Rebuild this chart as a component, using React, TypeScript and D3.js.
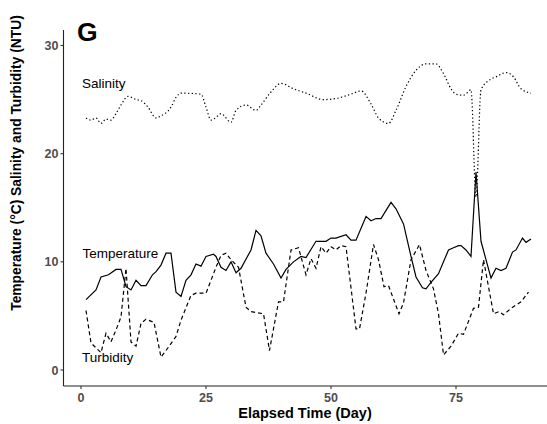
import React from "react";
import * as d3 from "d3";

const xTicks = [0, 25, 50, 75];
const yTicks = [0, 10, 20, 30];

const salinityDays = [1, 2, 3, 4, 5, 6, 7, 8, 9.4, 11, 12, 13.4, 15, 16, 18, 19, 20, 24, 25, 26, 27.4, 28, 30, 31, 33, 35, 36, 38, 40, 42.5, 45, 48.5, 51, 54, 56, 58, 59.5, 61.5, 63, 65, 67, 69, 71, 72.5, 74, 75, 76.5, 78, 79, 80, 82, 83, 85, 86.5, 88, 90];
const salinityValues = [23.3, 23.1, 23.3, 22.8, 23.2, 23.1, 23.7, 24.5, 25.3, 25.0, 24.9, 24.3, 23.3, 23.5, 24.3, 25.2, 25.6, 25.5, 24.3, 23.1, 23.5, 23.7, 22.9, 24.0, 24.5, 24.0, 24.5, 25.7, 26.5, 26.0, 25.6, 25.0, 25.1, 25.5, 25.8, 24.6, 23.3, 22.8, 24.0, 26.2, 27.7, 28.3, 28.3, 27.4, 26.0, 25.5, 25.4, 25.9, 16.0, 25.9, 26.9, 27.1, 27.5, 27.1, 26.0, 25.6];

const temperatureDays = [1, 3, 4, 5.5, 7, 8, 9, 10, 11, 12, 13, 14.3, 15, 16, 17, 18, 19, 20, 21, 22, 23, 24, 25, 26.5, 27, 28, 29, 30, 31, 32, 34, 35, 36, 37, 38.5, 40, 41, 42.5, 44, 45, 47, 49, 50, 51, 53, 54, 55, 57, 58, 59, 60, 62, 63, 64.5, 66, 67, 68.3, 69, 70, 71.5, 72.5, 73.5, 74.5, 75.5, 76, 77, 78, 79, 80, 81, 82, 83, 84, 85, 86.3, 87, 88.3, 89, 90];
const temperatureValues = [6.5, 7.4, 8.6, 8.8, 9.3, 9.3, 7.7, 7.4, 8.3, 7.8, 7.8, 8.8, 9.1, 9.7, 10.8, 10.8, 7.2, 6.8, 8.3, 8.8, 9.8, 9.6, 10.5, 10.7, 10.5, 9.5, 9.2, 10.0, 9.0, 9.4, 11.1, 12.9, 12.4, 10.8, 9.8, 8.5, 9.3, 10.0, 10.5, 10.4, 11.9, 11.9, 12.2, 12.2, 12.5, 12.0, 12.0, 14.2, 13.8, 14.0, 14.0, 15.5, 14.9, 13.5, 10.5, 8.6, 7.6, 7.5, 8.1, 8.9, 10.0, 11.1, 11.3, 11.5, 11.5, 11.1, 10.5, 18.3, 11.9, 10.2, 8.5, 9.4, 9.2, 9.4, 10.9, 11.1, 12.2, 11.8, 12.1];

const turbidityDays = [1, 2, 4, 5, 6, 7, 8, 9, 10, 11, 12, 13, 14.6, 16, 17, 19, 20, 22, 23, 25, 27, 28, 29, 30, 31.5, 33, 34, 36.5, 37.7, 39.5, 40.5, 42, 43.5, 45, 46, 47, 48, 49, 50, 51, 52, 53, 55, 55.7, 57, 58.5, 59.5, 60.6, 61.5, 63.6, 64.5, 66, 67.7, 69, 70.5, 71.5, 72.5, 74, 75.5, 76.5, 78.5, 79.5, 80.5, 82.5, 83.6, 84.5, 86, 88, 89.5];
const turbidityValues = [5.5, 2.5, 1.6, 3.4, 2.6, 3.7, 4.9, 9.4, 2.6, 2.2, 4.3, 4.7, 4.4, 1.2, 1.8, 3.1, 4.6, 6.9, 7.1, 7.1, 9.5, 10.6, 10.8, 10.2, 9.5, 5.8, 5.4, 5.2, 1.8, 6.3, 6.3, 11.1, 11.3, 8.8, 10.3, 9.4, 11.4, 10.8, 11.4, 11.1, 11.5, 11.4, 3.8, 3.8, 7.1, 11.6, 10.2, 7.7, 7.8, 5.2, 6.2, 10.2, 11.6, 9.2, 7.5, 5.2, 1.4, 2.2, 3.4, 3.3, 5.7, 5.8, 10.2, 5.2, 5.4, 5.1, 5.7, 6.3, 7.2];

const FONT = "'Liberation Sans', Arial, Helvetica, sans-serif";

export default function App() {
  const W = 547;
  const H = 424;
  const x = d3.scaleLinear().domain([0, 75]).range([81, 456]);
  const y = d3.scaleLinear().domain([0, 30]).range([370, 45.5]);
  const panelLeft = 63.5;
  const panelBottom = 386;
  const panelTop = 30;

  const mk = (days: number[], vals: number[]) => days.map((d, i) => [d, vals[i]] as [number, number]);
  const lineLin = d3.line<[number, number]>().x((d) => x(d[0])).y((d) => y(d[1]));
  const lineSmooth = d3
    .line<[number, number]>()
    .x((d) => x(d[0]))
    .y((d) => y(d[1]))
    .curve(d3.curveMonotoneX);

  return (
    <svg width={W} height={H} style={{ position: "absolute", left: 0, top: 0, background: "#fff" }} fontFamily={FONT}>
      <rect width={W} height={H} fill="#fff" />
      {/* lines */}
      <path d={lineSmooth(mk(salinityDays, salinityValues)) || ""} fill="none" stroke="#000" strokeWidth={1.2} strokeDasharray="1.3,2.4" />
      <path d={lineLin(mk(temperatureDays, temperatureValues)) || ""} fill="none" stroke="#000" strokeWidth={1.2} />
      <path d={lineLin(mk(turbidityDays, turbidityValues)) || ""} fill="none" stroke="#000" strokeWidth={1.2} strokeDasharray="4,3" />

      {/* axes */}
      <line x1={panelLeft} x2={panelLeft} y1={panelTop} y2={panelBottom} stroke="#222" strokeWidth={1.1} />
      <line x1={panelLeft} x2={W} y1={panelBottom} y2={panelBottom} stroke="#222" strokeWidth={1.1} />
      {yTicks.map((t) => (
        <g key={"y" + t}>
          <line x1={panelLeft - 3} x2={panelLeft} y1={y(t)} y2={y(t)} stroke="#333" strokeWidth={1.1} />
          <text x={panelLeft - 5} y={y(t)} dy="0.36em" textAnchor="end" fontSize={12.5} fontWeight="bold" fill="#4d4d4d">
            {t}
          </text>
        </g>
      ))}
      {xTicks.map((t) => (
        <g key={"x" + t}>
          <line x1={x(t)} x2={x(t)} y1={panelBottom} y2={panelBottom + 3} stroke="#333" strokeWidth={1.1} />
          <text x={x(t)} y={panelBottom + 16} textAnchor="middle" fontSize={12.5} fontWeight="bold" fill="#4d4d4d">
            {t}
          </text>
        </g>
      ))}

      {/* axis titles */}
      <text x={305} y={418} textAnchor="middle" fontSize={14.5} fontWeight="bold" fill="#000">
        Elapsed Time (Day)
      </text>
      <text transform="translate(20.7,163) rotate(-90)" textAnchor="middle" fontSize={13.8} fontWeight="bold" fill="#000">
        Temperature (°C) Salinity and Turbidity (NTU)
      </text>

      {/* panel label */}
      <text x={77} y={41} fontSize={26.5} fontWeight="bold" fill="#000">
        G
      </text>

      {/* series labels */}
      <text x={82} y={87.5} fontSize={13.5} fill="#000">Salinity</text>
      <text x={82.5} y={258} fontSize={13.5} fill="#000">Temperature</text>
      <text x={82} y={362} fontSize={13.5} fill="#000">Turbidity</text>
    </svg>
  );
}
